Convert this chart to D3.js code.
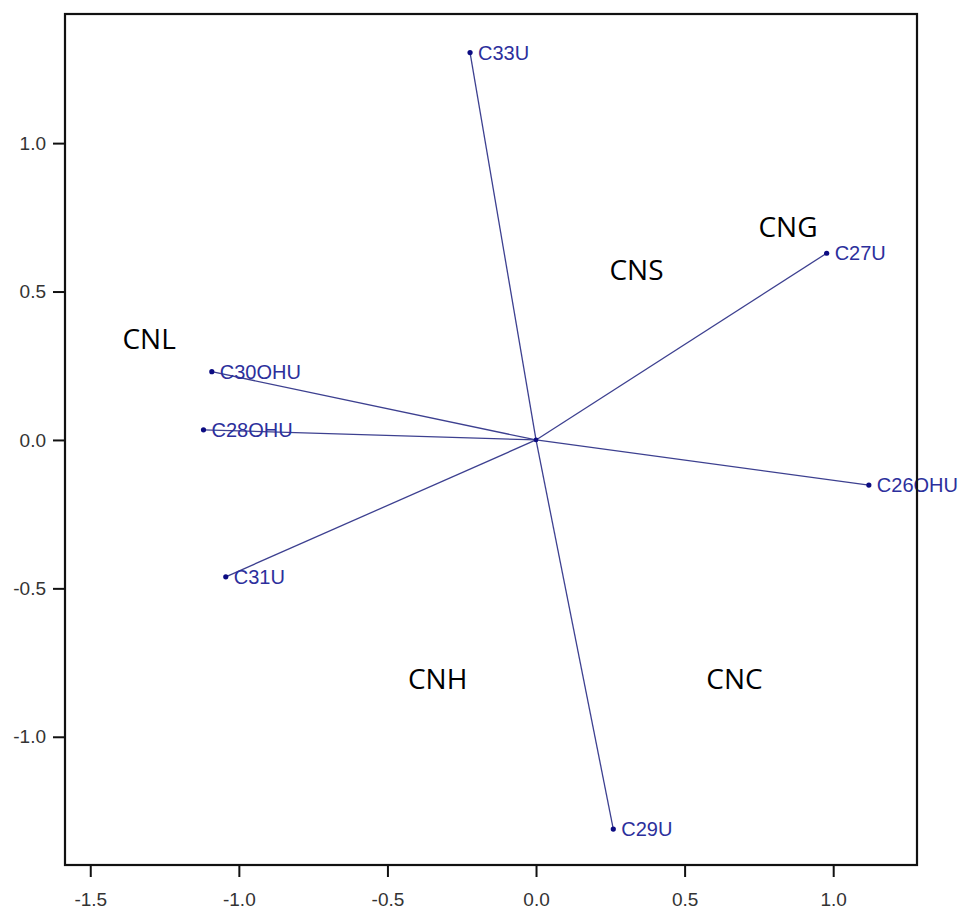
<!DOCTYPE html>
<html>
<head>
<meta charset="utf-8">
<script src="https://cdn.jsdelivr.net/npm/d3@7"></script>
<style>
  html, body { margin: 0; padding: 0; background: #ffffff; }
  svg { display: block; }
</style>
</head>
<body>
<svg id="chart" width="963" height="909"></svg>
<script>
// Loading vectors (component 1, component 2)
const variables = ["C33U", "C27U", "C30OHU", "C28OHU", "C26OHU", "C31U", "C29U"];
const comp1 = [-0.222, 0.978, -1.091, -1.119, 1.120, -1.044, 0.260];
const comp2 = [1.305, 0.629, 0.230, 0.034, -0.152, -0.461, -1.311];

// Group labels placed in the plane
const groups = ["CNG", "CNS", "CNL", "CNH", "CNC"];
const groupX = [0.848, 0.338, -1.302, -0.331, 0.668];
const groupY = [0.684, 0.539, 0.307, -0.839, -0.839];

// Axis ticks
const xTicks = [-1.5, -1.0, -0.5, 0.0, 0.5, 1.0];
const yTicks = [-1.0, -0.5, 0.0, 0.5, 1.0];

const svg = d3.select("#chart");
const plotL = 65, plotR = 917, plotT = 14, plotB = 865;

const x = d3.scaleLinear().domain([-1.585, 1.282]).range([plotL, plotR]);
const y = d3.scaleLinear().domain([-1.432, 1.435]).range([plotB, plotT]);

const fmt = v => d3.format(".1f")(v).replace("\u2212", "-");

// Axes
const xAxis = svg.append("g")
  .attr("transform", `translate(0,${plotB})`)
  .call(d3.axisBottom(x).tickValues(xTicks).tickSize(12).tickPadding(16).tickFormat(fmt));
const yAxis = svg.append("g")
  .attr("transform", `translate(${plotL},0)`)
  .call(d3.axisLeft(y).tickValues(yTicks).tickSize(12).tickPadding(7).tickFormat(fmt));

[xAxis, yAxis].forEach(g => {
  g.select(".domain").remove();
  g.selectAll(".tick line").attr("stroke", "#111").attr("stroke-width", 2);
  g.selectAll(".tick text")
    .attr("fill", "#333")
    .style("font-family", "'Liberation Sans', Arial, sans-serif")
    .style("font-size", "19px");
});

const pts = variables.map((name, i) => ({ name, a: comp1[i], b: comp2[i] }));

// Vectors from the origin
svg.append("g").selectAll("line")
  .data(pts).join("line")
  .attr("x1", x(0)).attr("y1", y(0))
  .attr("x2", d => x(d.a)).attr("y2", d => y(d.b))
  .attr("stroke", "#3d4090")
  .attr("stroke-width", 1.3);

// End points
svg.append("g").selectAll("circle")
  .data(pts).join("circle")
  .attr("cx", d => x(d.a)).attr("cy", d => y(d.b))
  .attr("r", 2.6)
  .attr("fill", "#0c0c82");

svg.append("circle")
  .attr("cx", x(0)).attr("cy", y(0)).attr("r", 2.4).attr("fill", "#0c0c82");

// Variable names
svg.append("g").selectAll("text")
  .data(pts).join("text")
  .attr("x", d => x(d.a) + 8)
  .attr("y", d => y(d.b) + 7)
  .text(d => d.name)
  .attr("fill", "#2c2f9c")
  .style("font-family", "'Liberation Sans', Arial, sans-serif")
  .style("font-size", "20px");

// Group names
svg.append("g").selectAll("text")
  .data(groups.map((g, i) => ({ g, a: groupX[i], b: groupY[i] }))).join("text")
  .attr("x", d => x(d.a))
  .attr("y", d => y(d.b))
  .attr("text-anchor", "middle")
  .text(d => d.g)
  .attr("fill", "#000")
  .style("font-family", "'Open Sans', 'Noto Sans', sans-serif")
  .style("font-size", "28px");

// Plot frame
svg.append("rect")
  .attr("x", plotL).attr("y", plotT)
  .attr("width", plotR - plotL).attr("height", plotB - plotT)
  .attr("fill", "none")
  .attr("stroke", "#111")
  .attr("stroke-width", 2.2);
</script>
</body>
</html>
